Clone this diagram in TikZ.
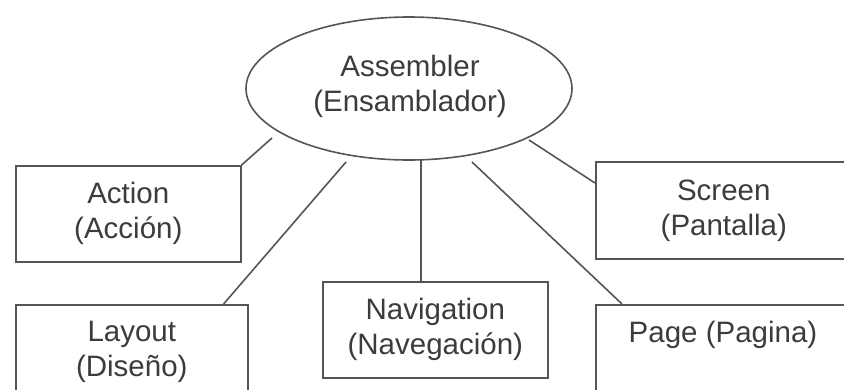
\documentclass[tikz,border=0pt]{standalone}
\usepackage{fontspec}
\setmainfont{Liberation Sans}
\usetikzlibrary{shapes.geometric}
\definecolor{linecol}{HTML}{555555}
\definecolor{textcol}{HTML}{3C3C3C}
\begin{document}
\begin{tikzpicture}[x=1pt,y=-1pt,
  conn/.style={draw=linecol, line width=1.6pt},
  boxnode/.style={draw=linecol, line width=1.6pt, rectangle, anchor=north west, inner sep=0pt},
  lbl/.style={text=textcol, align=center, font=\fontsize{29.5}{35}\selectfont},
  ellnode/.style={draw=linecol, line width=1.6pt, ellipse, inner sep=0pt}
]
\useasboundingbox (0,0) rectangle (844,389);
\clip (0,0) rectangle (844,389);
\fill[white] (0,0) rectangle (844,389);

% ellipse
\node[ellnode, minimum width=326pt, minimum height=143pt] (asm) at (409,88.5) {};
\node[lbl] (asmt) at (410,86) {Assembler\\(Ensamblador)};

% boxes
\node[boxnode, minimum width=225pt, minimum height=96pt] (action) at (15,165) {};
\node[lbl] (actiont) at (action.center) {Action\\(Acción)};

\node[boxnode, minimum width=232pt, minimum height=95pt] (layout) at (15,304) {};
\node[lbl] (layoutt) at (layout.center) {Layout\\(Diseño)};

\node[boxnode, minimum width=225pt, minimum height=96pt] (nav) at (322,281) {};
\node[lbl] (navt) at (nav.center) {Navigation\\(Navegación)};

\node[boxnode, minimum width=256pt, minimum height=97pt] (screen) at (595,161) {};
\node[lbl] (screent) at (screen.center) {Screen\\(Pantalla)};

\node[boxnode, minimum width=256pt, minimum height=120pt] (page) at (595,304) {};
\node[lbl] (paget) at (723,335) {Page (Pagina)};

% free ends near the ellipse
\coordinate (eA) at (272,138);
\coordinate (eL) at (346,162);
\coordinate (eN) at (421,159.5);
\coordinate (eP) at (472,162);
\coordinate (eS) at (529,140);

% connectors
\draw[conn] (action.north east) -- (eA);
\draw[conn] ([xshift=-25pt]layout.north east) -- (eL);
\draw[conn] (eN) -- (eN |- nav.north);
\draw[conn] ([xshift=27pt]page.north west) -- (eP);
\draw[conn] ([yshift=-22pt]screen.north west) -- (eS);
\end{tikzpicture}
\end{document}
